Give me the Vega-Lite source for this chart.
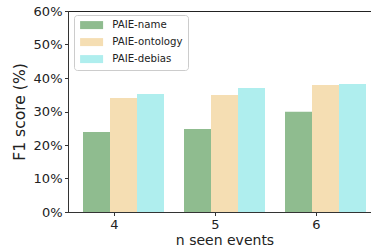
{
  "$schema": "https://vega.github.io/schema/vega-lite/v6.json",
  "width": 313,
  "height": 201,
  "padding": {"left": 12, "top": 5, "right": 0, "bottom": 0},
  "background": "white",
  "config": {
    "font": "DejaVu Sans",
    "view": {"stroke": "#222222", "strokeWidth": 1},
    "axis": {
      "domainColor": "#333333",
      "domainWidth": 1,
      "tickColor": "#333333",
      "tickSize": 3.5,
      "tickWidth": 1,
      "labelColor": "#222222",
      "labelFontSize": 13,
      "labelPadding": 2.5,
      "titleColor": "#222222",
      "titleFontWeight": "normal",
      "grid": false
    }
  },
  "data": {
    "values": [
      {"n": 4, "method": "PAIE-name", "f1": 0.239},
      {"n": 4, "method": "PAIE-ontology", "f1": 0.340},
      {"n": 4, "method": "PAIE-debias", "f1": 0.352},
      {"n": 5, "method": "PAIE-name", "f1": 0.248},
      {"n": 5, "method": "PAIE-ontology", "f1": 0.349},
      {"n": 5, "method": "PAIE-debias", "f1": 0.370},
      {"n": 6, "method": "PAIE-name", "f1": 0.299},
      {"n": 6, "method": "PAIE-ontology", "f1": 0.379},
      {"n": 6, "method": "PAIE-debias", "f1": 0.382}
    ]
  },
  "mark": {"type": "bar"},
  "encoding": {
    "x": {
      "field": "n",
      "type": "ordinal",
      "scale": {"paddingInner": 0.198, "paddingOuter": 0.1485},
      "axis": {
        "title": "n seen events",
        "titleFontSize": 14,
        "titlePadding": 2,
        "labelAngle": 0,
        "tickOffset": -9.5
      }
    },
    "xOffset": {
      "field": "method",
      "type": "nominal",
      "sort": ["PAIE-name", "PAIE-ontology", "PAIE-debias"]
    },
    "y": {
      "field": "f1",
      "type": "quantitative",
      "scale": {"domain": [0, 0.6], "nice": false},
      "axis": {
        "title": "F1 score (%)",
        "titleFontSize": 15.6,
        "titlePadding": 6,
        "format": ".0%",
        "values": [0, 0.1, 0.2, 0.3, 0.4, 0.5, 0.6]
      }
    },
    "color": {
      "field": "method",
      "type": "nominal",
      "sort": ["PAIE-name", "PAIE-ontology", "PAIE-debias"],
      "scale": {
        "domain": ["PAIE-name", "PAIE-ontology", "PAIE-debias"],
        "range": ["#8fbc8f", "#f5deb3", "#afeeee"]
      },
      "legend": {
        "title": null,
        "orient": "none",
        "legendX": 6,
        "legendY": 4,
        "padding": 5,
        "rowPadding": 6,
        "strokeColor": "#cccccc",
        "fillColor": "white",
        "cornerRadius": 3,
        "labelFontSize": 10.2,
        "labelColor": "#222222",
        "labelOffset": 23,
        "symbolType": "M-1,-1H4.75V1H-1Z",
        "symbolSize": 64,
        "symbolStrokeWidth": 0,
        "symbolOpacity": 1
      }
    }
  }
}
